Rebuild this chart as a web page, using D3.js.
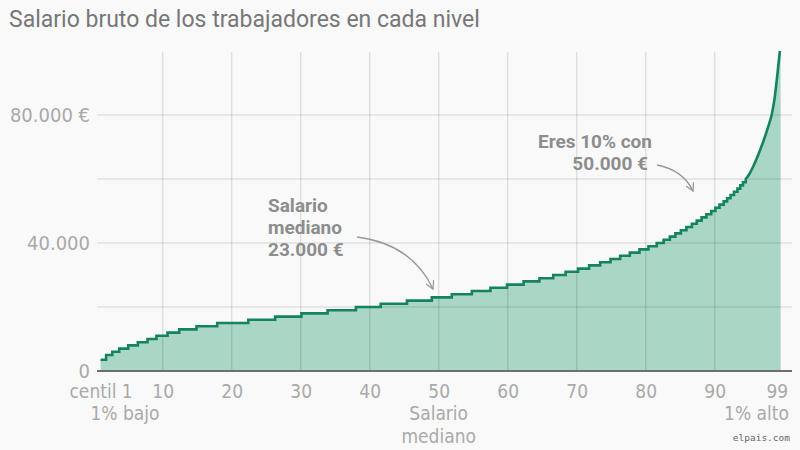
<!DOCTYPE html>
<html>
<head>
<meta charset="utf-8">
<script src="https://cdn.jsdelivr.net/npm/d3@7"></script>
<style>
  html, body { margin: 0; padding: 0; background: #f9f9f9; }
  svg { display: block; }
  .tit { font-family: Roboto, "Open Sans", sans-serif; font-size: 23px; fill: #777; }
  .eje { font-family: "DejaVu Sans Condensed", "Liberation Sans Narrow", "DejaVu Sans", sans-serif; font-stretch: condensed; font-size: 19px; fill: #a9a9a9; }
  .ejey { font-size: 20px; }
  .nota { font-family: Roboto, "Open Sans", sans-serif; font-weight: 700; font-size: 19px; fill: #8d8d8d; }
  .firma { font-family: "DejaVu Sans Mono", "Liberation Mono", monospace; font-size: 9.5px; fill: #666; }
</style>
</head>
<body>
<svg id="grafico" width="800" height="450"></svg>
<script>
// salario (euros) de cada escalon y centil en el que empieza
var salarioEscalon = [3500, 5000, 6000, 7000, 8000, 9000, 10000, 11000, 12000, 13000,
  14000, 15000, 16000, 17000, 18000, 19000, 20000, 21000, 22000, 23000,
  24000, 25000, 26000, 27000, 28000, 29000, 30000, 31000, 32000, 33000,
  34000, 35000, 36000, 37000, 38000, 39000, 40000, 41000, 42000, 43000,
  44000, 45000, 46000, 47000, 48000, 49000, 50000, 51000, 52000, 53000,
  54000, 55000, 56000, 57000, 58000, 59000, 60000];
var centilEscalon = [1, 1.8, 2.7, 3.7, 5.0, 6.4, 7.8, 9.1, 10.7, 12.4,
  14.9, 17.9, 22.4, 26.3, 30.1, 33.9, 38.0, 41.6, 45.4, 49.0,
  51.9, 54.8, 57.5, 59.9, 62.3, 64.6, 66.6, 68.4, 70.2, 71.8,
  73.4, 74.9, 76.3, 77.7, 79.1, 80.4, 81.6, 82.6, 83.5, 84.3,
  85.1, 85.9, 86.7, 87.4, 88.1, 88.8, 89.5, 90.1, 90.7, 91.3,
  91.8, 92.3, 92.8, 93.3, 93.7, 94.1, 94.5];

// tramo final (1% alto), demasiado empinado para ver escalones
var centilCola = [94.5, 95, 95.6, 96.3, 97, 97.7, 98.3, 98.7, 98.95, 99.2, 99.45];
var salarioCola = [60000, 61500, 64000, 67500, 71500, 76000, 80500, 85500, 90000, 95000, 100000];

var xTicks = [1, 10, 20, 30, 40, 50, 60, 70, 80, 90, 99];
var xTickLabels = ["centil 1", "10", "20", "30", "40", "50", "60", "70", "80", "90", "99"];
var xGrid = [10, 20, 30, 40, 50, 60, 70, 80, 90];
var yTicks = [0, 40000, 80000];
var yTickLabels = ["0", "40.000", "80.000 €"];
var yGrid = [20000, 40000, 60000, 80000];

var svg = d3.select("#grafico");

var x = d3.scaleLinear().domain([1, 99]).range([100.6, 776.8]);
var y = d3.scaleLinear().domain([0, 100000]).range([371, 51]);

var escalones = centilEscalon.map(function(c, i) { return [c, salarioEscalon[i]]; });
var cola = centilCola.map(function(c, i) { return [c, salarioCola[i]]; });

var lineaEscalon = d3.line()
  .x(function(d) { return x(d[0]); })
  .y(function(d) { return y(d[1]); })
  .curve(d3.curveStepAfter);
var lineaCola = d3.line()
  .x(function(d) { return x(d[0]); })
  .y(function(d) { return y(d[1]); })
  .curve(d3.curveMonotoneX);

var trazo = lineaEscalon(escalones) + lineaCola(cola).replace(/^M/, "L");
var ultimo = centilCola[centilCola.length - 1];
var relleno = trazo + "L" + (x(ultimo) + 0.7) + "," + y(100000) +
  "L" + (x(ultimo) + 0.7) + "," + y(0) + "L" + x(1) + "," + y(0) + "Z";

// titulo
svg.append("text")
  .attr("class", "tit")
  .attr("x", 9)
  .attr("y", 27)
  .text("Salario bruto de los trabajadores en cada nivel");

// area
svg.append("path")
  .attr("d", relleno)
  .attr("fill", "#a9d6c5");

// rejilla por encima del area
svg.append("g")
  .selectAll("line")
  .data(xGrid)
  .enter()
  .append("line")
  .attr("x1", function(d) { return x(d); })
  .attr("x2", function(d) { return x(d); })
  .attr("y1", 52)
  .attr("y2", y(0))
  .attr("stroke", "rgba(0,0,0,0.1)")
  .attr("stroke-width", 1.5);

svg.append("g")
  .selectAll("line")
  .data(yGrid)
  .enter()
  .append("line")
  .attr("x1", 97)
  .attr("x2", 792)
  .attr("y1", function(d) { return y(d); })
  .attr("y2", function(d) { return y(d); })
  .attr("stroke", "rgba(0,0,0,0.1)")
  .attr("stroke-width", 1.5);

// linea
svg.append("path")
  .attr("d", trazo)
  .attr("fill", "none")
  .attr("stroke", "#13845e")
  .attr("stroke-width", 2.6);

// eje base
svg.append("line")
  .attr("x1", 97)
  .attr("x2", 792)
  .attr("y1", y(0))
  .attr("y2", y(0))
  .attr("stroke", "#6e6e6e")
  .attr("stroke-width", 2);

// ejes
var ejeX = d3.axisBottom(x)
  .tickValues(xTicks)
  .tickSize(0)
  .tickPadding(14)
  .tickFormat(function(d, i) { return xTickLabels[i]; });
svg.append("g")
  .attr("transform", "translate(0," + y(0) + ")")
  .call(ejeX)
  .call(function(g) { g.select(".domain").remove(); })
  .selectAll("text")
  .attr("class", "eje")
  .attr("fill", null)
  .attr("dy", "0.71em");

var ejeY = d3.axisLeft(y)
  .tickValues(yTicks)
  .tickSize(0)
  .tickPadding(0)
  .tickFormat(function(d, i) { return yTickLabels[i]; });
svg.append("g")
  .attr("transform", "translate(90,0)")
  .call(ejeY)
  .call(function(g) { g.select(".domain").remove(); })
  .selectAll("text")
  .attr("class", "eje ejey")
  .attr("fill", null)
  .attr("dy", "0.3em");

svg.selectAll("g").attr("font-family", null).attr("font-size", null);

// textos bajo el eje
svg.append("text").attr("class", "eje").attr("x", 125).attr("y", 420)
  .attr("text-anchor", "middle").text("1% bajo");
svg.append("text").attr("class", "eje").attr("x", x(50)).attr("y", 420)
  .attr("text-anchor", "middle").text("Salario");
svg.append("text").attr("class", "eje").attr("x", x(50)).attr("y", 443)
  .attr("text-anchor", "middle").text("mediano");
svg.append("text").attr("class", "eje").attr("x", 789).attr("y", 420)
  .attr("text-anchor", "end").text("1% alto");
svg.append("text").attr("class", "firma").attr("x", 790).attr("y", 441)
  .attr("text-anchor", "end").text("elpais.com");

// anotaciones
svg.append("defs").append("marker")
  .attr("id", "punta")
  .attr("viewBox", "0 0 10 10")
  .attr("refX", 9)
  .attr("refY", 5)
  .attr("markerWidth", 9)
  .attr("markerHeight", 9)
  .attr("markerUnits", "userSpaceOnUse")
  .attr("orient", "auto")
  .append("path")
  .attr("d", "M0,0L9,5L0,10")
  .attr("fill", "none")
  .attr("stroke", "#999")
  .attr("stroke-width", 1.4);

var nota1 = svg.append("text").attr("class", "nota");
nota1.append("tspan").attr("x", 268).attr("y", 212).text("Salario");
nota1.append("tspan").attr("x", 268).attr("y", 234).text("mediano");
nota1.append("tspan").attr("x", 268).attr("y", 256).text("23.000 €");

svg.append("path")
  .attr("d", "M357,237Q412,244 433,289")
  .attr("fill", "none")
  .attr("stroke", "#999")
  .attr("stroke-width", 1.4)
  .attr("marker-end", "url(#punta)");

var nota2 = svg.append("text").attr("class", "nota").attr("text-anchor", "end");
nota2.append("tspan").attr("x", 652).attr("y", 148).text("Eres 10% con");
nota2.append("tspan").attr("x", 648).attr("y", 170).text("50.000 €");

svg.append("path")
  .attr("d", "M657,165Q683,170 693,191")
  .attr("fill", "none")
  .attr("stroke", "#999")
  .attr("stroke-width", 1.4)
  .attr("marker-end", "url(#punta)");
</script>
</body>
</html>
